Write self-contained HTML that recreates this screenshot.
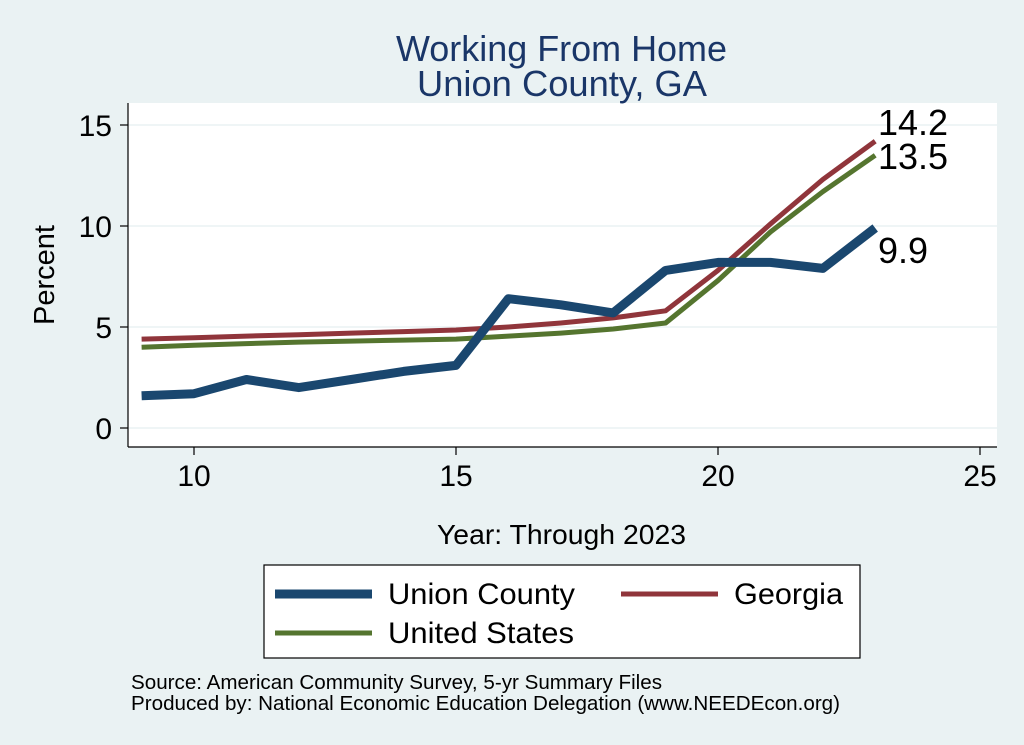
<!DOCTYPE html>
<html><head><meta charset="utf-8"><style>
html,body{margin:0;padding:0;background:#eaf2f3;}
svg{display:block;font-family:"Liberation Sans",Arial,sans-serif;}
</style></head><body>
<svg width="1024" height="745" viewBox="0 0 1024 745">
<rect width="1024" height="745" fill="#eaf2f3"/>
<rect x="128" y="103" width="869" height="344" fill="#fff"/>
<g stroke="#eaf2f3" stroke-width="1.5">
<line x1="128" y1="125" x2="997" y2="125"/><line x1="128" y1="226" x2="997" y2="226"/>
<line x1="128" y1="327" x2="997" y2="327"/><line x1="128" y1="428" x2="997" y2="428"/>
</g>
<g stroke="#000" stroke-width="1.2">
<line x1="128" y1="103" x2="128" y2="447"/><line x1="128" y1="447" x2="997" y2="447"/>
<line x1="120" y1="125" x2="128" y2="125"/><line x1="120" y1="226" x2="128" y2="226"/>
<line x1="120" y1="327" x2="128" y2="327"/><line x1="120" y1="428" x2="128" y2="428"/>
<line x1="194" y1="447" x2="194" y2="455"/><line x1="456" y1="447" x2="456" y2="455"/>
<line x1="718" y1="447" x2="718" y2="455"/><line x1="980" y1="447" x2="980" y2="455"/>
</g>
<g font-size="30" fill="#000" text-anchor="end">
<text x="112" y="136">15</text><text x="112" y="237">10</text><text x="112" y="338">5</text><text x="112" y="439">0</text>
</g>
<g font-size="30" fill="#000" text-anchor="middle">
<text x="194" y="486">10</text><text x="456" y="486">15</text><text x="718" y="486">20</text><text x="980" y="486">25</text>
</g>
<text x="437" y="544" font-size="28" textLength="249" lengthAdjust="spacingAndGlyphs">Year: Through 2023</text>
<text transform="translate(54,275) rotate(-90)" font-size="29" text-anchor="middle">Percent</text>
<g font-size="36" fill="#1a3668">
<text x="396" y="61" textLength="331" lengthAdjust="spacingAndGlyphs">Working From Home</text>
<text x="417" y="96" textLength="290" lengthAdjust="spacingAndGlyphs">Union County, GA</text>
</g>
<g fill="none" stroke-linejoin="round">
<polyline stroke="#55752f" stroke-width="5" points="141.6,347.2 194,345.2 246.4,343.6 298.8,342.1 351.2,341.1 403.6,340.1 456,339.1 508.4,336.1 560.8,333.1 613.2,329 665.6,323 718,280.5 770.4,232 822.8,191.7 875.2,155.3"/>
<polyline stroke="#90353b" stroke-width="5" points="141.6,339.1 194,337.7 246.4,336.1 298.8,334.7 351.2,333.1 403.6,331.6 456,330 508.4,327 560.8,323 613.2,317.9 665.6,310.8 718,270.4 770.4,224 822.8,179.5 875.2,141.2"/>
<polyline stroke="#1a476f" stroke-width="9" points="141.6,395.7 194,393.7 246.4,379.5 298.8,387.6 351.2,379.5 403.6,371.4 456,365.4 508.4,298.7 560.8,304.8 613.2,312.9 665.6,270.4 718,262.4 770.4,262.4 822.8,268.4 875.2,228"/>
</g>
<g font-size="36" fill="#000">
<text x="878" y="135">14.2</text><text x="878" y="169">13.5</text><text x="878" y="263">9.9</text>
</g>
<rect x="264" y="565" width="596" height="93" fill="#fff" stroke="#000" stroke-width="1.2"/>
<line x1="275" y1="594" x2="372" y2="594" stroke="#1a476f" stroke-width="9"/>
<line x1="621" y1="594" x2="718" y2="594" stroke="#90353b" stroke-width="5"/>
<line x1="275" y1="633" x2="372" y2="633" stroke="#55752f" stroke-width="5"/>
<g font-size="30" fill="#000">
<text x="388" y="604" textLength="187" lengthAdjust="spacingAndGlyphs">Union County</text>
<text x="734" y="604" textLength="109" lengthAdjust="spacingAndGlyphs">Georgia</text>
<text x="388" y="643" textLength="186" lengthAdjust="spacingAndGlyphs">United States</text>
</g>
<g font-size="20" fill="#000">
<text x="131" y="689" textLength="531" lengthAdjust="spacingAndGlyphs">Source: American Community Survey, 5-yr Summary Files</text>
<text x="131" y="710" textLength="709" lengthAdjust="spacingAndGlyphs">Produced by: National Economic Education Delegation (www.NEEDEcon.org)</text>
</g>
</svg>
</body></html>
